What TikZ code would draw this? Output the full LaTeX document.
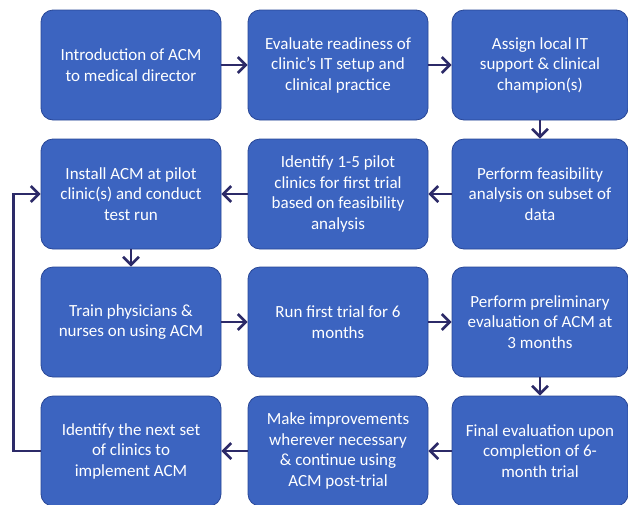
\documentclass[tikz,border=0pt]{standalone}
\usepackage{fontspec}
\setmainfont{Carlito}
\usetikzlibrary{arrows.meta}
\definecolor{boxblue}{RGB}{60,100,192}
\definecolor{boxedge}{RGB}{40,70,150}
\definecolor{flowink}{RGB}{44,42,104}
\begin{document}
\begin{tikzpicture}[x=1pt, y=-1pt,
  stepbox/.style={rectangle, rounded corners=12pt, draw=boxedge, line width=0.8pt,
    fill=boxblue, text=white, align=center, minimum width=180pt, minimum height=110pt,
    inner sep=2pt, font=\fontsize{17}{20.5}\selectfont},
  flow/.style={draw=flowink, line width=2.6pt, -{Straight Barb[length=8pt, width=16pt, line width=2.6pt]}}]

\useasboundingbox (0, 0) rectangle (628, 504);

% row 1
\node[stepbox] (intro) at (131, 65) {Introduction of ACM\\to medical director};
\node[stepbox] (ready) at (338, 65) {Evaluate readiness of\\clinic’s IT setup and\\clinical practice};
\node[stepbox, minimum width=176pt] (assign) at (540, 65) {Assign local IT\\support \& clinical\\champion(s)};

% row 2
\node[stepbox, minimum width=176pt] (feas) at (540, 194) {Perform feasibility\\analysis on subset of\\data};
\node[stepbox] (pilot) at (338, 194) {Identify 1-5 pilot\\clinics for first trial\\based on feasibility\\analysis};
\node[stepbox] (install) at (131, 194) {Install ACM at pilot\\clinic(s) and conduct\\test run};

% row 3
\node[stepbox] (train) at (131, 322) {Train physicians \&\\nurses on using ACM};
\node[stepbox] (trial) at (338, 322) {Run first trial for 6\\months};
\node[stepbox, minimum width=176pt] (prelim) at (540, 322) {Perform preliminary\\evaluation of ACM at\\3 months};

% row 4
\node[stepbox, minimum width=176pt] (final) at (540, 451) {Final evaluation upon\\completion of 6-\\month trial};
\node[stepbox] (improve) at (338, 451) {Make improvements\\wherever necessary\\\& continue using\\ACM post-trial};
\node[stepbox] (next) at (131, 451) {Identify the next set\\of clinics to\\implement ACM};

\draw[flow] (intro) -- (ready);
\draw[flow] (ready) -- (assign);
\draw[flow] (assign) -- (feas);
\draw[flow] (feas) -- (pilot);
\draw[flow] (pilot) -- (install);
\draw[flow] (install) -- (train);
\draw[flow] (train) -- (trial);
\draw[flow] (trial) -- (prelim);
\draw[flow] (prelim) -- (final);
\draw[flow] (final) -- (improve);
\draw[flow] (improve) -- (next);
\draw[flow] (next.west) -- ++(-27, 0) |- (install.west);

\end{tikzpicture}
\end{document}
